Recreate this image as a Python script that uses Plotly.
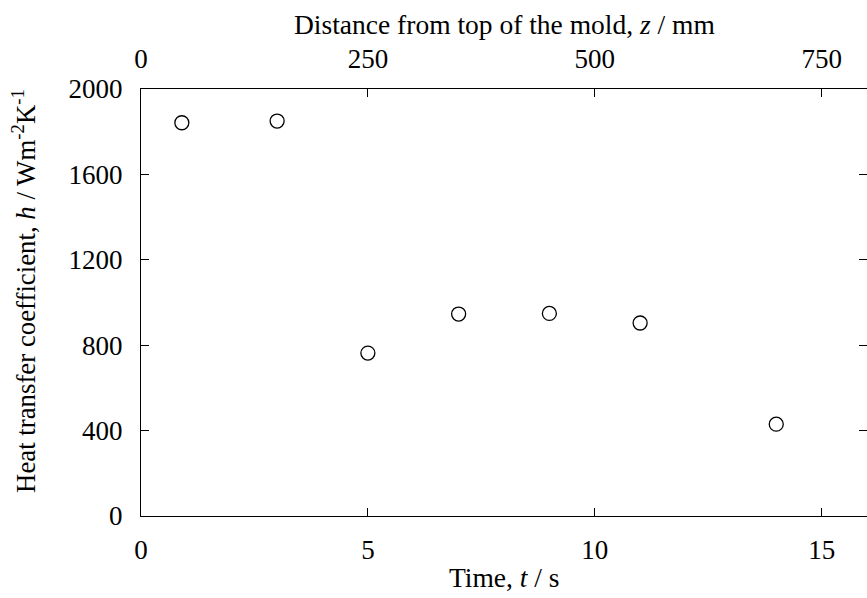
import plotly.graph_objects as go

# Measured heat transfer coefficient versus time
time_s = [0.9, 3, 5, 7, 9, 11, 14]
htc = [1842, 1850, 763, 946, 949, 904, 430]

# Axis ticks
t_ticks = [0, 5, 10, 15]
z_ticks = [0, 250, 500, 750]
h_ticks = [0, 400, 800, 1200, 1600, 2000]

FONT = "Liberation Serif"
FS_TICK = 27
FS_TITLE = 27.5

fig = go.Figure()
fig.add_trace(go.Scatter(
    x=time_s, y=htc, mode="markers",
    marker=dict(symbol="circle", size=14, color="white",
                line=dict(color="black", width=1.3)),
    showlegend=False, cliponaxis=False,
))
# invisible trace to activate the top (distance) axis
fig.add_trace(go.Scatter(x=[0, 800], y=[0, 0], xaxis="x2", yaxis="y",
                         mode="markers", marker=dict(opacity=0),
                         showlegend=False, hoverinfo="skip"))
# invisible trace for the right tick axis
fig.add_trace(go.Scatter(x=[0], y=[0], xaxis="x", yaxis="y2",
                         mode="markers", marker=dict(opacity=0),
                         showlegend=False, hoverinfo="skip"))

axis_common = dict(showgrid=False, zeroline=False, ticks="inside", ticklen=8,
                   tickwidth=1.3, tickcolor="black", linecolor="black",
                   linewidth=1.3,
                   tickfont=dict(family=FONT, size=FS_TICK, color="black"))

fig.update_layout(
    width=867, height=598,
    margin=dict(l=141, r=0, t=89, b=82),
    paper_bgcolor="white", plot_bgcolor="white",
    font=dict(family=FONT, size=FS_TICK, color="black"),
    xaxis=dict(range=[0, 16], tickvals=t_ticks, showline=True,
               ticklabelstandoff=9, **axis_common),
    xaxis2=dict(range=[0, 800], tickvals=z_ticks, overlaying="x", side="top",
                showline=True, ticklabelstandoff=9, **axis_common),
    yaxis=dict(range=[0, 2000], tickvals=h_ticks, showline=True,
               ticklabelstandoff=12, **axis_common),
    yaxis2=dict(range=[0, 2000], tickvals=h_ticks, overlaying="y", side="right",
                showline=False, showticklabels=False, **axis_common),
    annotations=[
        dict(text="Time, <i>t</i> / s", xref="paper", yref="paper",
             x=0.5, y=-0.143, xanchor="center", yanchor="middle",
             showarrow=False, font=dict(family=FONT, size=FS_TITLE)),
        dict(text="Distance from top of the mold, <i>z</i> / mm", xref="paper",
             yref="paper", x=0.5, y=1.152, xanchor="center", yanchor="middle",
             showarrow=False, font=dict(family=FONT, size=FS_TITLE)),
        dict(text="Heat transfer coefficient, <i>h</i> / Wm<sup>-2</sup>K<sup>-1</sup>",
             xref="paper", yref="paper", x=-0.162, y=0.528, xanchor="center",
             yanchor="middle", textangle=-90, showarrow=False,
             font=dict(family=FONT, size=26.8)),
    ],
)

fig.write_html("out.html")
